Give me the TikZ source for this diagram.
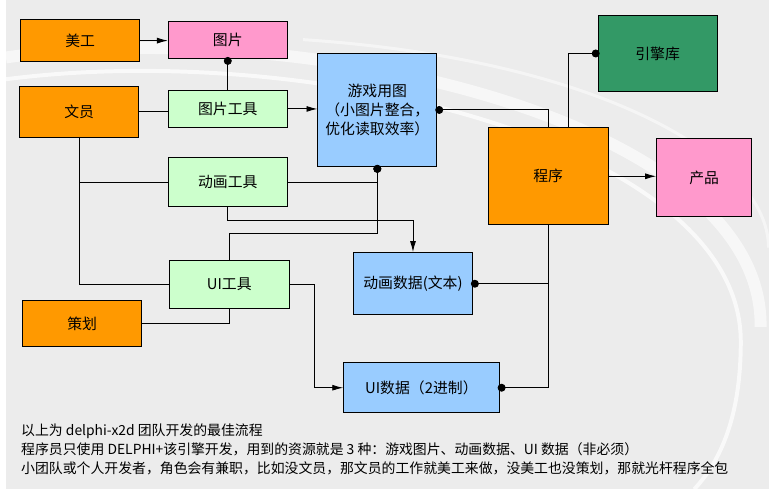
\documentclass[tikz,border=0pt]{standalone}
\usepackage{fontspec}
\setmainfont{Noto Sans CJK SC}
\usetikzlibrary{arrows.meta}
\definecolor{orangebox}{RGB}{255,153,0}
\definecolor{pinkbox}{RGB}{255,153,204}
\definecolor{greenbox}{RGB}{204,255,204}
\definecolor{bluebox}{RGB}{153,204,255}
\definecolor{darkgreenbox}{RGB}{51,153,102}
\definecolor{backgray}{RGB}{236,236,236}
\tikzset{
  box/.style={draw, line width=1pt, inner sep=0pt, align=center, minimum width=120pt,
    font=\fontsize{15}{19}\selectfont},
  arr/.style={-{Latex[length=11pt,width=6pt]}},
  ball/.style={{Circle[length=8pt]}-, shorten <=-2pt},
  remark/.style={anchor=west, inner sep=0pt, font=\fontsize{14}{17}\selectfont}
}
\begin{document}
\begin{tikzpicture}[x=1pt, y=-1pt, line width=0.9pt]
      \fill[color=backgray] (0, 0) rectangle (770, 494);
      \draw[color=white, line width=12pt, opacity=0.6] (0, 58) .. controls (300, 15) and (765, 120) .. (762, 330);
      \draw[color=white, line width=4pt, opacity=0.7] (0, 80) .. controls (310, 40) and (742, 145) .. (742, 345) .. controls (742, 420) and (722, 465) .. (695, 494);
      \draw[color=white, line width=3pt, opacity=0.5] (300, 40) .. controls (600, 60) and (770, 160) .. (770, 250);

      \node[box, fill=orangebox, minimum height=42pt] (meigong) at (75, 41) {美工};
      \node[box, fill=pinkbox, minimum height=37pt] (tupian) at (224, 40.5) {图片};
      \node[box, fill=orangebox, minimum height=52pt] (wenyuan) at (74, 113) {文员};
      \node[box, fill=greenbox, minimum height=38pt] (tpgj) at (224, 110) {图片工具};
      \node[box, fill=bluebox, minimum height=114pt] (yxyt) at (375, 111) {游戏用图\\（小图片整合，\\优化读取效率）};
      \node[box, fill=greenbox, minimum height=50pt] (dhgj) at (224, 184) {动画工具};
      \node[box, fill=greenbox, minimum width=121pt, minimum height=48pt] (uigj) at (225.5, 287) {UI工具};
      \node[box, fill=orangebox, minimum height=47pt] (cehua) at (77, 326.5) {策划};
      \node[box, fill=bluebox, minimum height=63pt] (dhsj) at (411, 286.5) {动画数据(文本)};
      \node[box, fill=bluebox, minimum width=157pt, minimum height=51pt] (uisj) at (419.5, 391.5) {UI数据（2进制）};
      \node[box, fill=darkgreenbox, minimum height=76pt] (yqk) at (658, 54) {引擎库};
      \node[box, fill=orangebox, minimum width=121pt, minimum height=98pt] (chengxu) at (547.5, 178) {程序};
      \node[box, fill=pinkbox, minimum width=96pt, minimum height=79pt] (chanpin) at (705, 179.5) {产品};

      \draw[arr] (meigong.east) -- (meigong.east -| tupian.west);
      \draw[ball] (tupian.south) -- (tpgj.north);
      \draw (wenyuan.east) -- (wenyuan.east -| tpgj.west);
      \draw[arr] (tpgj.east) -- (tpgj.east -| yxyt.west);
      \draw (wenyuan.south) |- (uigj.west);
      \draw (wenyuan.south |- dhgj.west) -- (dhgj.west);
      \draw[ball] (yxyt.south) |- (dhgj.east);
      \draw[ball] (yxyt.south) -- ++(0, 67) -| (uigj.north);
      \draw[arr] (dhgj.south) -- ++(0, 13) -| (dhsj.north);
      \draw (cehua.east) -| (uigj.south);
      \draw[arr] (uigj.east) -- ++(25, 0) |- (uisj.west);
      \draw[ball] (dhsj.east) -- (dhsj.east -| chengxu.south);
      \draw[ball] (uisj.east) -| (chengxu.south);
      \draw[ball] (yxyt.east) -| (chengxu.north);
      \draw[ball] (yqk.west) -| ([xshift=20.5pt]chengxu.north);
      \draw[arr] (chengxu.east) -- (chengxu.east -| chanpin.west);

      \node[remark] (zeile1) at (15, 435) {以上为 delphi-x2d 团队开发的最佳流程};
      \node[remark] (zeile2) at (15, 454) {程序员只使用 DELPHI+该引擎开发，用到的资源就是 3 种：游戏图片、动画数据、UI 数据（非必须）};
      \node[remark] (zeile3) at (15, 473) {小团队或个人开发者，角色会有兼职，比如没文员，那文员的工作就美工来做，没美工也没策划，那就光杆程序全包};
    \end{tikzpicture}
\end{document}
